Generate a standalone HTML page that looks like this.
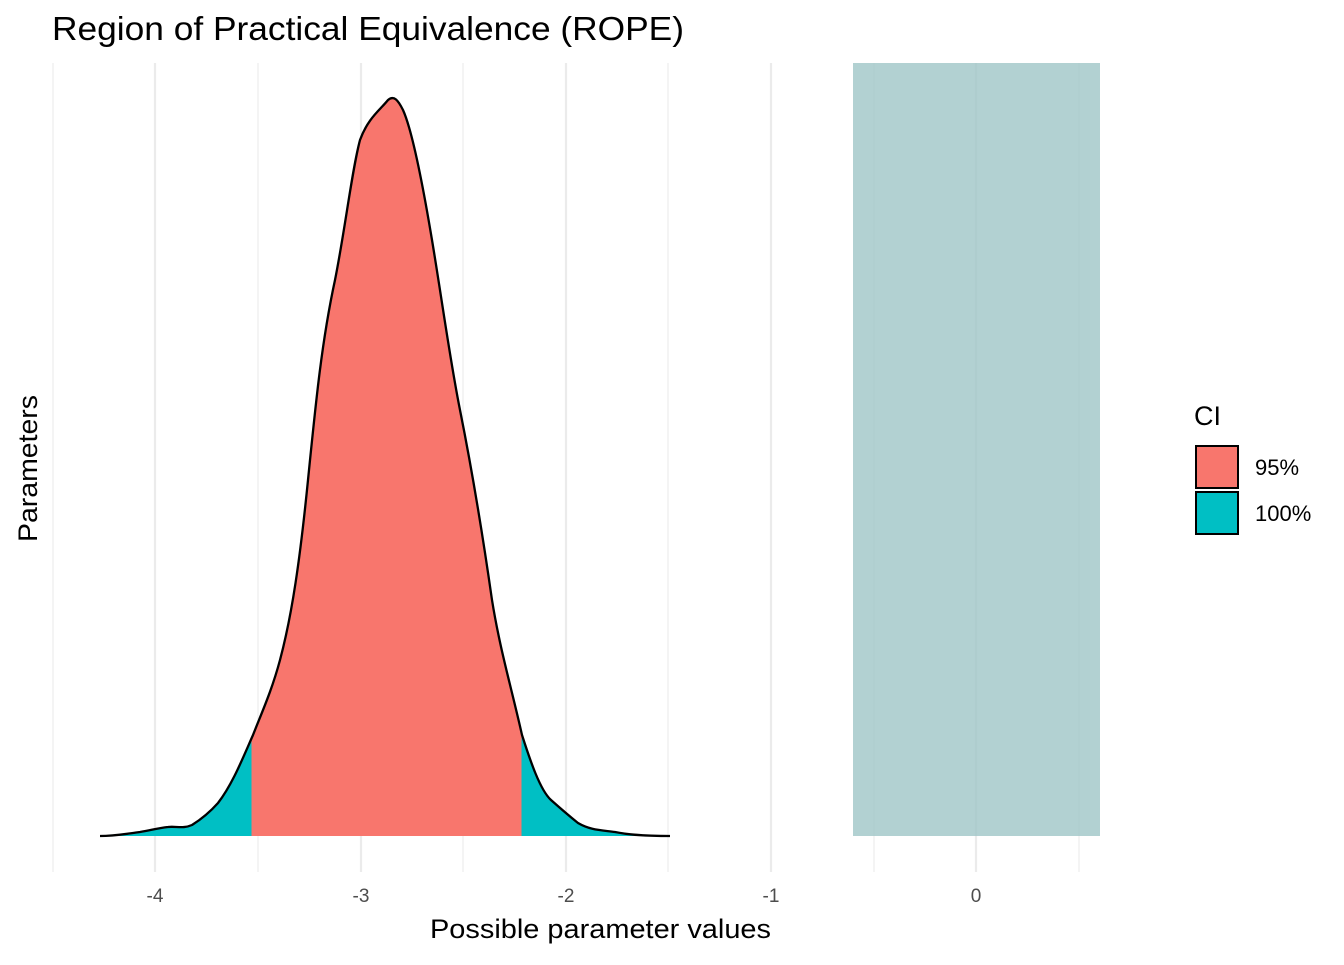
<!DOCTYPE html>
<html><head><style>
body{margin:0;background:#fff;}
svg text{font-family:"Liberation Sans",sans-serif;}
</style></head><body>
<svg width="1344" height="960" xmlns="http://www.w3.org/2000/svg">
<rect width="1344" height="960" fill="#fff"/>
<g stroke="#ebebeb" stroke-width="1.1">
<line x1="53" y1="63" x2="53" y2="872"/><line x1="258" y1="63" x2="258" y2="872"/>
<line x1="463" y1="63" x2="463" y2="872"/><line x1="668" y1="63" x2="668" y2="872"/>
<line x1="874" y1="63" x2="874" y2="872"/><line x1="1079" y1="63" x2="1079" y2="872"/>
</g>
<g stroke="#ebebeb" stroke-width="2.2">
<line x1="155" y1="63" x2="155" y2="872"/><line x1="361" y1="63" x2="361" y2="872"/>
<line x1="566" y1="63" x2="566" y2="872"/><line x1="771" y1="63" x2="771" y2="872"/>
<line x1="976" y1="63" x2="976" y2="872"/>
</g>
<rect x="853" y="63" width="247" height="773" fill="#9fc5c7" opacity="0.8"/>
<defs>
<clipPath id="mid"><rect x="251.5" y="0" width="270" height="960"/></clipPath>
</defs>
<path d="M100,836 C115,836 125,834 140,832 C152,830 158,828 168,827 C176,826 183,829 192,825 C200,820 210,812 218,803 C232,785 242,760 253,735 C262,712 272,690 280,660 C292,615 300,560 308,480 C316,400 322,340 335,280 C345,230 352,170 360,140 C368,118 380,110 388,100 C394,95 398,100 403,110 C412,130 422,180 432,240 C442,300 450,360 460,410 C472,470 482,530 492,600 C500,650 512,690 522,735 C530,760 540,790 551,800 C560,808 568,815 578,823 C590,830 600,830 615,832 C630,835 645,836 670,836 Z" fill="#00bfc4"/>
<path clip-path="url(#mid)" d="M100,836 C115,836 125,834 140,832 C152,830 158,828 168,827 C176,826 183,829 192,825 C200,820 210,812 218,803 C232,785 242,760 253,735 C262,712 272,690 280,660 C292,615 300,560 308,480 C316,400 322,340 335,280 C345,230 352,170 360,140 C368,118 380,110 388,100 C394,95 398,100 403,110 C412,130 422,180 432,240 C442,300 450,360 460,410 C472,470 482,530 492,600 C500,650 512,690 522,735 C530,760 540,790 551,800 C560,808 568,815 578,823 C590,830 600,830 615,832 C630,835 645,836 670,836 Z" fill="#f8766d"/>
<path d="M100,836 C115,836 125,834 140,832 C152,830 158,828 168,827 C176,826 183,829 192,825 C200,820 210,812 218,803 C232,785 242,760 253,735 C262,712 272,690 280,660 C292,615 300,560 308,480 C316,400 322,340 335,280 C345,230 352,170 360,140 C368,118 380,110 388,100 C394,95 398,100 403,110 C412,130 422,180 432,240 C442,300 450,360 460,410 C472,470 482,530 492,600 C500,650 512,690 522,735 C530,760 540,790 551,800 C560,808 568,815 578,823 C590,830 600,830 615,832 C630,835 645,836 670,836" fill="none" stroke="#000" stroke-width="2.3"/>
<g font-size="19" fill="#4d4d4d" text-anchor="middle">
<text x="155" y="902">-4</text><text x="361" y="902">-3</text><text x="566" y="902">-2</text>
<text x="771" y="902">-1</text><text x="976" y="902">0</text>
</g>
<text x="430" y="938" font-size="27" textLength="341" lengthAdjust="spacingAndGlyphs">Possible parameter values</text>
<text transform="translate(37,542) rotate(-90)" font-size="27" textLength="147" lengthAdjust="spacingAndGlyphs">Parameters</text>
<text x="52" y="40" font-size="33" textLength="632" lengthAdjust="spacingAndGlyphs">Region of Practical Equivalence (ROPE)</text>
<text x="1194" y="425" font-size="27">CI</text>
<rect x="1196" y="446" width="42" height="42" fill="#f8766d" stroke="#000" stroke-width="2"/>
<rect x="1196" y="492" width="42" height="42" fill="#00bfc4" stroke="#000" stroke-width="2"/>
<text x="1255" y="475" font-size="22">95%</text>
<text x="1255" y="521" font-size="22">100%</text>
</svg>
</body></html>
